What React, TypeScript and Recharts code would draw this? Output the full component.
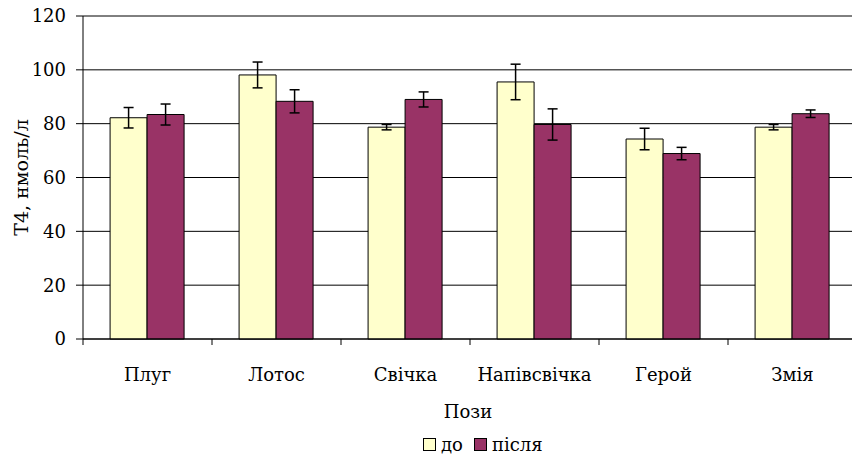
import React from 'react';
import { BarChart, Bar, XAxis, YAxis, CartesianGrid, ErrorBar, Legend } from 'recharts';

const categories = ['Плуг', 'Лотос', 'Свічка', 'Напівсвічка', 'Герой', 'Змія'];
const beforeValues = [82.2, 98.1, 78.7, 95.5, 74.3, 78.7];
const beforeErrors = [3.8, 4.8, 1.0, 6.6, 4.0, 1.0];
const afterValues = [83.4, 88.3, 89.0, 79.7, 68.9, 83.7];
const afterErrors = [3.9, 4.3, 2.8, 5.8, 2.3, 1.4];
const yTicks = [0, 20, 40, 60, 80, 100, 120];
const seriesNames = ['до', 'після'];
const xTitle = 'Пози';
const yTitle = 'T4, нмоль/л';

const data = categories.map((c, i) => ({
  name: c,
  before: beforeValues[i],
  beforeErr: beforeErrors[i],
  after: afterValues[i],
  afterErr: afterErrors[i],
}));

const FONT = 'DejaVu Serif';
const FS = 18;
const C_BEFORE = '#FFFFCC';
const C_AFTER = '#993366';

const CatTick = (props: any) => {
  const { x, y, payload, width, visibleTicksCount } = props;
  const half = payload && payload.offset ? payload.offset : width / visibleTicksCount / 2;
  const axisY = y - 28;
  return (
    <g>
      <line x1={x - half} y1={axisY} x2={x - half} y2={axisY + 6} stroke="#000" strokeWidth={1} />
      <text x={x} y={axisY + 42} textAnchor="middle" fontFamily={FONT} fontSize={FS} fill="#000">
        {payload.value}
      </text>
    </g>
  );
};

const LegendContent = () => (
  <svg width={857} height={48} style={{ display: 'block' }}>
    <rect x={423.5} y={29.5} width={12} height={12} fill={C_BEFORE} stroke="#000" />
    <text x={441} y={42} fontFamily={FONT} fontSize={FS} fill="#000">{seriesNames[0]}</text>
    <rect x={474.5} y={29.5} width={12} height={12} fill={C_AFTER} stroke="#000" />
    <text x={492} y={42} fontFamily={FONT} fontSize={FS} fill="#000">{seriesNames[1]}</text>
  </svg>
);

export default function App() {
  return (
    <div style={{ position: 'absolute', left: 0, top: 0, width: 852, height: 457, overflow: 'hidden', background: '#fff' }}>
      <BarChart
        width={857}
        height={457}
        data={data}
        margin={{ top: 16, right: 0, bottom: 0, left: 0 }}
        barCategoryGap="21%"
        barGap={0}
      >
        <CartesianGrid vertical={false} stroke="#000" strokeWidth={1} />
        <XAxis
          dataKey="name"
          height={70}
          tickSize={0}
          tickMargin={28}
          tickLine={false}
          axisLine={{ stroke: '#000', strokeWidth: 1 }}
          tick={CatTick}
          interval={0}
          label={{
            content: (p: any) => {
              const vb = p.viewBox;
              return (
                <text x={vb.x + vb.width / 2 - 2} y={vb.y + 79} textAnchor="middle" fontFamily={FONT} fontSize={FS} fill="#000">
                  {xTitle}
                </text>
              );
            },
          }}
        />
        <YAxis
          width={83}
          domain={[0, 120]}
          ticks={yTicks}
          interval={0}
          tickSize={7}
          tickMargin={10}
          axisLine={{ stroke: '#000', strokeWidth: 1 }}
          tickLine={{ stroke: '#000', strokeWidth: 1 }}
          tick={{ fontFamily: FONT, fontSize: FS, fill: '#000' }}
          label={{
            content: (p: any) => {
              const vb = p.viewBox;
              const cy = vb.y + vb.height / 2;
              return (
                <text x={21} y={cy} transform={`rotate(-90, 21, ${cy})`} textAnchor="middle" dominantBaseline="central" fontFamily={FONT} fontSize={19} fill="#000">
                  {yTitle}
                </text>
              );
            },
          }}
        />
        <Legend verticalAlign="bottom" height={48} content={LegendContent} />
        <Bar dataKey="before" name={seriesNames[0]} fill={C_BEFORE} stroke="#000" strokeWidth={1} isAnimationActive={false}>
          <ErrorBar dataKey="beforeErr" width={5} stroke="#000" strokeWidth={1.5} direction="y" />
        </Bar>
        <Bar dataKey="after" name={seriesNames[1]} fill={C_AFTER} stroke="#000" strokeWidth={1} isAnimationActive={false}>
          <ErrorBar dataKey="afterErr" width={5} stroke="#000" strokeWidth={1.5} direction="y" />
        </Bar>
      </BarChart>
    </div>
  );
}
